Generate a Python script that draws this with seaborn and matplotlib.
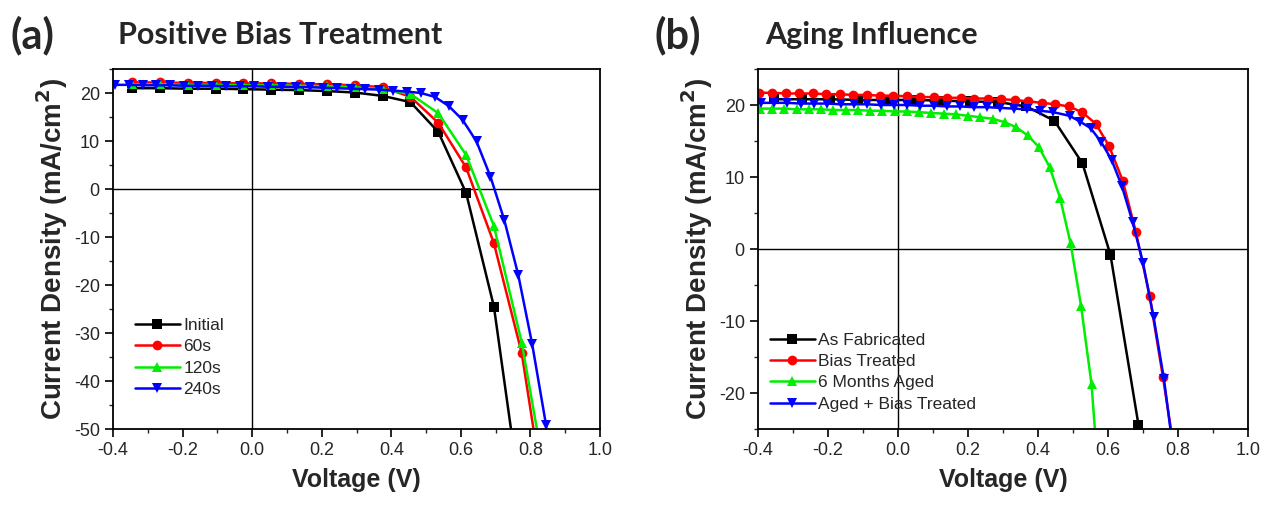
import numpy as np
import seaborn as sns
import matplotlib.pyplot as plt
from matplotlib.ticker import MultipleLocator

# ---- panel (a): positive bias treatment ----
v_a = [-0.345, -0.265, -0.185, -0.105, -0.025, 0.055, 0.135, 0.215,
       0.295, 0.375, 0.455, 0.535, 0.615, 0.695, 0.775]
j_initial = [21.0, 21.0, 20.9, 20.9, 20.8, 20.7, 20.6, 20.4, 20.1, 19.4,
             18.1, 11.9, -0.8, -24.5]
j_60s = [22.2, 22.2, 22.1, 22.1, 22.0, 22.0, 21.9, 21.8, 21.6, 21.2,
         19.2, 13.8, 4.5, -11.3, -34.2]
j_120s = [21.8, 21.8, 21.7, 21.7, 21.6, 21.6, 21.5, 21.4, 21.2, 20.8,
          19.8, 15.8, 7.1, -7.7, -32.0]
v_240s = [-0.395, -0.355, -0.315, -0.275, -0.235, -0.195, -0.155, -0.115,
          -0.075, -0.035, 0.005, 0.045, 0.085, 0.125, 0.165, 0.205, 0.245,
          0.285, 0.325, 0.365, 0.405, 0.445, 0.485, 0.525, 0.565, 0.605,
          0.645, 0.685, 0.725, 0.765, 0.805, 0.845]
j_240s = [21.7, 21.7, 21.6, 21.6, 21.6, 21.5, 21.5, 21.5, 21.4, 21.4, 21.4,
          21.3, 21.3, 21.2, 21.2, 21.1, 21.0, 20.9, 20.8, 20.7, 20.5, 20.3,
          20.0, 19.2, 17.3, 14.4, 9.9, 2.6, -6.5, -17.9, -32.3, -49.2]
# where each curve leaves the bottom of panel (a)
end_a = {'Initial': (0.746, -51), '60s': (0.811, -51), '120s': (0.821, -51), '240s': (0.847, -51)}

# ---- panel (b): aging influence ----
v_fab = [-0.353, -0.273, -0.193, -0.113, -0.033, 0.047, 0.127, 0.207,
         0.287, 0.367, 0.447, 0.527, 0.607, 0.687]
j_fab = [20.8, 20.8, 20.8, 20.7, 20.7, 20.7, 20.6, 20.5, 20.4, 19.8,
         17.8, 11.9, -0.8, -24.4]
v_bias = [-0.398, -0.360, -0.321, -0.283, -0.244, -0.206, -0.167, -0.129,
          -0.090, -0.052, -0.013, 0.026, 0.064, 0.103, 0.141, 0.180, 0.218,
          0.257, 0.295, 0.334, 0.372, 0.411, 0.449, 0.488, 0.526, 0.565,
          0.603, 0.642, 0.680, 0.719, 0.757]
j_bias = [21.7, 21.7, 21.6, 21.6, 21.6, 21.5, 21.5, 21.4, 21.4, 21.3, 21.3,
          21.2, 21.1, 21.1, 21.0, 21.0, 20.9, 20.9, 20.8, 20.7, 20.5, 20.3,
          20.1, 19.8, 19.0, 17.4, 14.3, 9.5, 2.3, -6.5, -17.8]
v_aged = [-0.395, -0.360, -0.325, -0.290, -0.255, -0.220, -0.185, -0.150,
          -0.115, -0.080, -0.045, -0.010, 0.025, 0.060, 0.095, 0.130, 0.165,
          0.200, 0.235, 0.270, 0.305, 0.338, 0.370, 0.402, 0.433, 0.463,
          0.493, 0.523, 0.553]
j_aged = [19.5, 19.5, 19.5, 19.4, 19.4, 19.4, 19.3, 19.3, 19.3, 19.2, 19.2,
          19.1, 19.1, 19.0, 18.9, 18.8, 18.7, 18.5, 18.3, 18.1, 17.6, 16.9,
          15.8, 14.2, 11.4, 7.1, 0.8, -7.9, -18.8]
v_agedbias = [-0.392, -0.354, -0.316, -0.278, -0.240, -0.202, -0.164, -0.126,
              -0.088, -0.050, -0.012, 0.026, 0.064, 0.102, 0.140, 0.178,
              0.216, 0.254, 0.292, 0.330, 0.368, 0.406, 0.444, 0.490, 0.520,
              0.550, 0.580, 0.610, 0.640, 0.670, 0.700, 0.730, 0.760]
j_agedbias = [20.3, 20.3, 20.3, 20.2, 20.2, 20.2, 20.1, 20.1, 20.1, 20.0,
              20.0, 20.0, 19.9, 19.9, 19.8, 19.8, 19.7, 19.7, 19.6, 19.5,
              19.4, 19.2, 19.0, 18.5, 17.7, 16.8, 14.9, 12.4, 8.7, 3.8, -1.9,
              -9.4, -18.1]
end_b = {'As Fabricated': (0.693, -26), 'Bias Treated': (0.783, -26),
         '6 Months Aged': (0.564, -26), 'Aged + Bias Treated': (0.781, -26)}

sns.set_style('white')
plt.rcParams['font.family'] = ['Liberation Sans', 'DejaVu Sans']
plt.rcParams['axes.unicode_minus'] = False

fig = plt.figure(figsize=(12.71, 5.09), dpi=100)
ax_a = fig.add_axes([113 / 1271, 80 / 509, 487 / 1271, 360 / 509])
ax_b = fig.add_axes([758 / 1271, 80 / 509, 490 / 1271, 360 / 509])


def draw(ax, v, j, end, name, color, marker):
    n = len(j)
    xs = list(v[:n]) + [end[0]]
    ys = list(j) + [end[1]]
    sns.lineplot(x=xs, y=ys, ax=ax, color=color, lw=1.8, marker=marker,
                 markersize=7, markeredgewidth=0, markevery=slice(0, n),
                 sort=False, estimator=None, label=name)


draw(ax_a, v_a, j_initial, end_a['Initial'], 'Initial', 'black', 's')
draw(ax_a, v_a, j_60s, end_a['60s'], '60s', 'red', 'o')
draw(ax_a, v_a, j_120s, end_a['120s'], '120s', '#00ee00', '^')
draw(ax_a, v_240s, j_240s, end_a['240s'], '240s', 'blue', 'v')

draw(ax_b, v_fab, j_fab, end_b['As Fabricated'], 'As Fabricated', 'black', 's')
draw(ax_b, v_bias, j_bias, end_b['Bias Treated'], 'Bias Treated', 'red', 'o')
draw(ax_b, v_aged, j_aged, end_b['6 Months Aged'], '6 Months Aged', '#00ee00', '^')
draw(ax_b, v_agedbias, j_agedbias, end_b['Aged + Bias Treated'], 'Aged + Bias Treated', 'blue', 'v')

for ax, ylim, yt in [(ax_a, (-50, 25), range(-50, 21, 10)),
                     (ax_b, (-25, 25), range(-20, 21, 10))]:
    ax.set_xlim(-0.4, 1.0)
    ax.set_ylim(*ylim)
    ax.axhline(0, color='black', lw=1.0, zorder=1)
    ax.axvline(0, color='black', lw=1.0, zorder=1)
    ax.xaxis.set_major_locator(MultipleLocator(0.2))
    ax.xaxis.set_minor_locator(MultipleLocator(0.1))
    ax.set_yticks(list(yt))
    ax.yaxis.set_minor_locator(MultipleLocator(5))
    ax.xaxis.set_major_formatter(plt.FuncFormatter(lambda x, p: f'{x:.1f}'))
    ax.tick_params(which='major', direction='out', length=6, width=1.2,
                   labelsize=13, color='black', bottom=True, left=True)
    ax.tick_params(which='minor', direction='out', length=3, width=1.0,
                   bottom=True, left=True)
    for s in ax.spines.values():
        s.set_color('black')
        s.set_linewidth(1.3)
    ax.set_xlabel('Voltage (V)', fontsize=18, fontweight='bold', labelpad=6)
    ax.set_ylabel('Current Density (mA/cm$^\\mathbf{2}$)', fontsize=20,
                  fontweight='bold', labelpad=3)

ax_a.legend(loc='lower left', bbox_to_anchor=(0.03, 0.07), frameon=False,
            fontsize=12.5, handlelength=2.6, handletextpad=0.2,
            labelspacing=0.35, borderaxespad=0)
ax_b.legend(loc='lower left', bbox_to_anchor=(0.01, 0.029), frameon=False,
            fontsize=12.5, handlelength=2.6, handletextpad=0.2,
            labelspacing=0.35, borderaxespad=0)

title_font = ['Lato', 'DejaVu Sans']
fig.text(10 / 1271, 1 - 35 / 509, '(a)', fontsize=30, fontweight='bold',
         family=title_font, va='center')
fig.text(118 / 1271, 1 - 35 / 509, 'Positive Bias Treatment', fontsize=22,
         fontweight='bold', family=title_font, va='center')
fig.text(655 / 1271, 1 - 35 / 509, '(b)', fontsize=30, fontweight='bold',
         family=title_font, va='center')
fig.text(765 / 1271, 1 - 35 / 509, 'Aging Influence', fontsize=22,
         fontweight='bold', family=title_font, va='center')

fig.savefig('out.png', dpi=100)
